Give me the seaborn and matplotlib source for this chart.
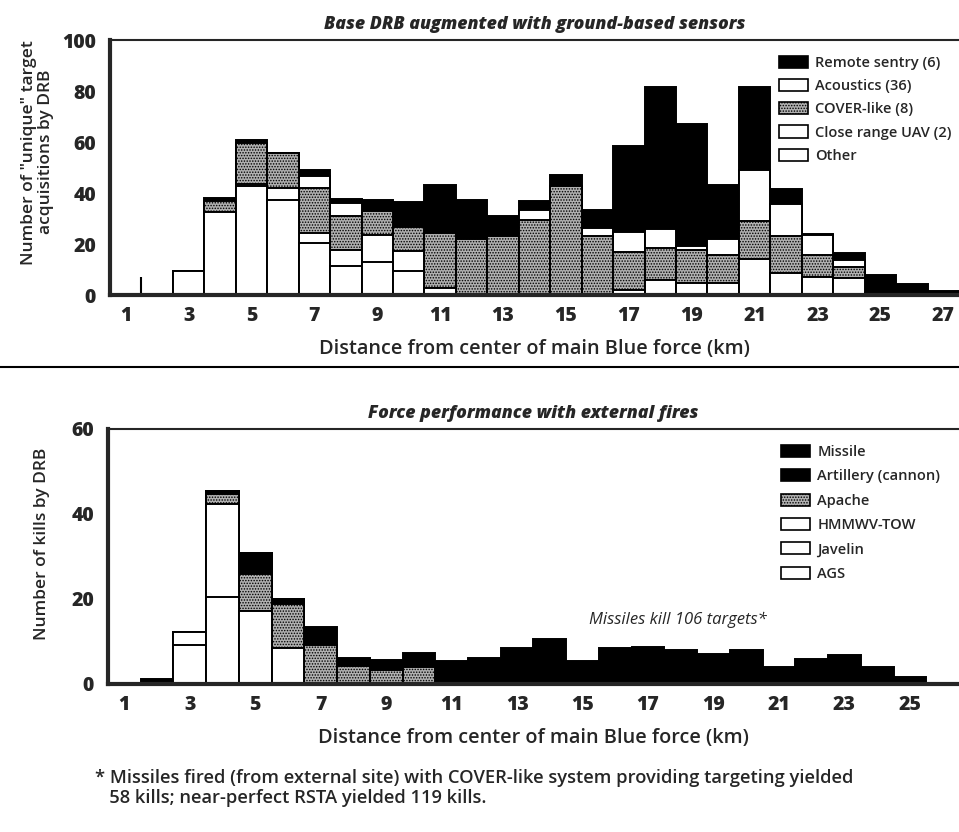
import numpy as np
import pandas as pd
import matplotlib
matplotlib.use("Agg")
import matplotlib.pyplot as plt
from matplotlib.patches import Patch
from matplotlib.lines import Line2D
import seaborn as sns

sns.set_style("white")
plt.rcParams['font.family'] = ['Open Sans', 'DejaVu Sans']
plt.rcParams['hatch.linewidth'] = 0.7

# Datos panel superior (adquisiciones por km)
# ==============================================================================
km_top = list(range(1, 28))
other_top = [0, 0, 9.5, 32.4, 42.7, 37.4, 20.3, 11.2, 13.1, 9.6, 2.6, 0, 0, 0,
             0, 0, 2.0, 5.9, 4.6, 4.6, 14.0, 8.8, 7.2, 6.6, 0.7, 0, 0]
uav_top = [0, 0, 0, 0, 1.0, 4.6, 4.2, 6.5, 10.5, 7.5, 0, 0, 0, 0,
           0, 0, 0, 0, 0, 0, 0, 0, 0, 0, 0, 0, 0]
cover_top = [0, 0, 0, 4.6, 16.0, 13.5, 17.5, 13.1, 9.2, 9.5, 21.7, 21.9, 23.2, 29.5,
             42.9, 23.2, 14.7, 12.5, 13.1, 11.1, 14.9, 14.2, 8.5, 4.3, 0, 0, 0]
acoustics_top = [0, 0, 0, 0, 0, 0, 4.6, 5.3, 0, 0, 0, 0, 0, 4.0,
                 0, 3.0, 8.2, 7.5, 1.6, 6.2, 20.0, 12.8, 7.9, 2.9, 0, 0, 0]
sentry_top = [0, 0, 0, 1.1, 0.9, 0, 2.4, 1.7, 4.3, 9.8, 18.7, 15.5, 7.6, 3.2,
              4.0, 7.0, 33.5, 55.5, 47.9, 21.4, 32.5, 5.8, 0.5, 2.6, 7.2, 4.3, 1.7]
stub_x = [1.5]
stub_h = [7]

# Datos panel inferior (bajas por km)
# ==============================================================================
km_bot = list(range(1, 27))
ags_bot = [0, 0, 9.1, 20.5, 17.2, 8.4, 0, 0, 0, 0, 0, 0, 0,
           0, 0, 0, 0, 0, 0, 0, 0, 0, 0, 0, 0, 0]
javelin_bot = [0, 0, 3.2, 21.8, 0, 0, 0, 0, 0, 0, 0, 0, 0,
               0, 0, 0, 0, 0, 0, 0, 0, 0, 0, 0, 0, 0]
hmmwv_bot = [0] * 26
apache_bot = [0, 0, 0, 2.4, 8.6, 10.35, 9.1, 4.2, 3.3, 4.1, 0, 0, 0,
              0, 0, 0, 0, 0, 0, 0, 0, 0, 0, 0, 0, 0]
artillery_bot = [0, 0, 0, 0.8, 5.0, 1.35, 0, 0, 0, 0, 0, 0, 0,
                 0, 0, 0, 0, 0, 0, 0, 0, 0, 0, 0, 0, 0]
missile_bot = [0, 1.1, 0, 0, 0, 0, 4.3, 1.8, 2.3, 3.1, 5.4, 6.0, 8.4,
               10.7, 5.4, 8.4, 8.75, 8.1, 7.0, 8.0, 3.9, 5.8, 6.8, 3.9, 1.7, 0.3]

STIPPLE = dict(facecolor='#b0b0b0', hatch='......')
WHITE = dict(facecolor='white')
BLACK = dict(facecolor='black')

top_series = [  # de abajo hacia arriba
    ('Other', other_top, WHITE),
    ('Close range UAV (2)', uav_top, WHITE),
    ('COVER-like (8)', cover_top, STIPPLE),
    ('Acoustics (36)', acoustics_top, WHITE),
    ('Remote sentry (6)', sentry_top, BLACK),
]
bot_series = [
    ('AGS', ags_bot, WHITE),
    ('Javelin', javelin_bot, WHITE),
    ('HMMWV-TOW', hmmwv_bot, WHITE),
    ('Apache', apache_bot, STIPPLE),
    ('Artillery (cannon)', artillery_bot, BLACK),
    ('Missile', missile_bot, BLACK),
]


def stacked(ax, km, series, anchor, spacing):
    # barras acumuladas superpuestas, de la mas alta a la mas baja
    cum = np.cumsum([s[1] for s in series], axis=0)
    for (name, vals, style), top in reversed(list(zip(series, cum))):
        df = pd.DataFrame({'km': km, 'valor': top})
        sns.barplot(data=df, x='km', y='valor', native_scale=True, width=1,
                    errorbar=None, saturation=1, edgecolor='black',
                    linewidth=1.4, ax=ax, **style)
    handles = [Patch(edgecolor='black', linewidth=1.2, label=name, **style)
               for name, vals, style in reversed(series)]
    ax.legend(handles=handles, loc='upper right', frameon=False,
              handlelength=2.0, handleheight=0.9,
              handletextpad=0.5, labelspacing=spacing,
              bbox_to_anchor=anchor, borderaxespad=0,
              prop={'weight': 'semibold', 'size': 10.5})


def style_axes(ax, km_ticks, ymax, ystep, title, ylabel):
    ax.set_ylim(0, ymax)
    ax.set_yticks(np.arange(0, ymax + 1, ystep))
    ax.set_xticks(km_ticks)
    ax.tick_params(axis='y', direction='in', length=13, width=1.5,
                   labelsize=14, pad=10)
    ax.tick_params(axis='x', length=0, labelsize=14, pad=8)
    for lab in ax.get_xticklabels() + ax.get_yticklabels():
        lab.set_fontweight('heavy')
    ax.spines['right'].set_visible(False)
    ax.spines['left'].set_linewidth(3)
    ax.spines['bottom'].set_linewidth(3)
    ax.spines['top'].set_linewidth(1.5)
    ax.set_title(title, fontsize=12.8, fontweight='heavy', style='italic', pad=8)
    ax.set_xlabel('Distance from center of main Blue force (km)',
                  fontsize=14.3, fontweight='semibold', labelpad=9)
    ax.set_ylabel(ylabel, fontsize=12.5, fontweight='semibold', linespacing=1.05)


fig = plt.figure(figsize=(9.59, 8.32), dpi=100)
ax1 = fig.add_axes([0.1147, 0.6454, 0.8853, 0.3065])
ax2 = fig.add_axes([0.1126, 0.1779, 0.8874, 0.3065])

# Panel superior
# ==============================================================================
stacked(ax1, km_top, top_series, (0.998, 0.96), 0.62)
ax1.vlines(stub_x, 0, stub_h, color='black', linewidth=1.5)
ax1.set_xlim(0.5, 27.5)
style_axes(ax1, range(1, 28, 2), 100, 20,
           'Base DRB augmented with ground-based sensors',
           'Number of "unique" target\nacquisitions by DRB')
ax1.yaxis.set_label_coords(-0.066, 0.56)

# Panel inferior
# ==============================================================================
stacked(ax2, km_bot, bot_series, (0.985, 0.96), 0.7)
ax2.set_xlim(0.5, 26.5)
style_axes(ax2, range(1, 26, 2), 60, 20,
           'Force performance with external fires',
           'Number of kills by DRB')
ax2.yaxis.set_label_coords(-0.068, 0.55)
ax2.text(17.9, 15.2, 'Missiles kill 106 targets*', fontsize=12,
         style='italic', ha='center', va='center')

fig.add_artist(Line2D([0, 1], [1 - 367 / 832] * 2, color='black', linewidth=1.5))
fig.text(0.099, 1 - 788 / 832,
         '* Missiles fired (from external site) with COVER-like system providing targeting yielded\n'
         '   58 kills; near-perfect RSTA yielded 119 kills.',
         fontsize=13.2, fontweight='semibold', va='center', linespacing=1.2)

fig.savefig('out.png', dpi=100)
